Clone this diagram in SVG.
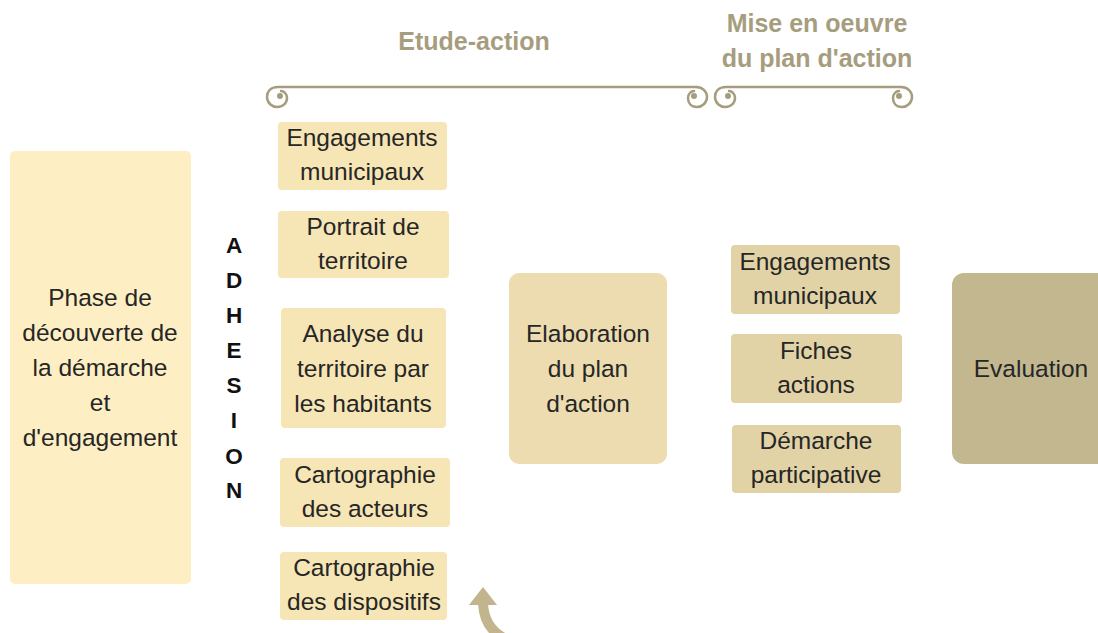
<svg xmlns="http://www.w3.org/2000/svg" width="1098" height="633" viewBox="0 0 1098 633">
<style>
  text { font-family: "Liberation Sans", Arial, sans-serif; }
  .t { font-size: 24.5px; fill: #262626; text-anchor: middle; }
  .h { font-size: 25px; font-weight: bold; fill: #a69d7e; text-anchor: middle; }
  .v { font-size: 22.5px; font-weight: bold; fill: #111; text-anchor: middle; }
  .b { fill: none; stroke: #a69d7e; stroke-width: 2.5; stroke-linecap: round; }
  .dot { fill: #a69d7e; }
  .phase { fill: #fdefc3; }
  .left { fill: #f6e5b5; }
  .elab { fill: #ecdcb0; }
  .right { fill: #e1d3a6; }
  .eval { fill: #c3b78f; }
</style>
<rect width="1098" height="633" fill="#ffffff"/>

<g id="headers">
  <text class="h" x="474" y="50">Etude-action</text>
  <text class="h" x="817" y="32">Mise en oeuvre</text>
  <text class="h" x="817" y="67">du plan d'action</text>
</g>

<g id="bracket-etude">
  <path class="b" d="M 696 87 L 278 87 C 270 87 267 92 267 97 C 267 103 272 107 277 107 C 283 107 287 103 287 98 C 287 94 284 91 281 91"/>
  <circle class="dot" cx="280" cy="96" r="3"/>
  <path class="b" d="M 696 87 C 703 87 707 92 707 97 C 707 103 702 107 697 107 C 691 107 688 103 688 98 C 688 94 691 91 694 91"/>
  <circle class="dot" cx="694" cy="96" r="3"/>
</g>

<g id="bracket-mise">
  <path class="b" d="M 901 87 L 726 87 C 718 87 715 92 715 97 C 715 103 720 107 725 107 C 731 107 735 103 735 98 C 735 94 732 91 729 91"/>
  <circle class="dot" cx="728" cy="96" r="3"/>
  <path class="b" d="M 901 87 C 908 87 912 92 912 97 C 912 103 907 107 902 107 C 896 107 893 103 893 98 C 893 94 896 91 899 91"/>
  <circle class="dot" cx="899" cy="96" r="3"/>
</g>

<g id="phase">
  <rect class="phase" x="10" y="151" width="181" height="433" rx="5"/>
  <text class="t" x="100" y="306">Phase de</text>
  <text class="t" x="100" y="341">découverte de</text>
  <text class="t" x="100" y="376">la démarche</text>
  <text class="t" x="100" y="411">et</text>
  <text class="t" x="100" y="446">d'engagement</text>
</g>

<g id="adhesion">
  <text class="v" x="234" y="253">A</text>
  <text class="v" x="234" y="288">D</text>
  <text class="v" x="234" y="323">H</text>
  <text class="v" x="234" y="358">E</text>
  <text class="v" x="234" y="393">S</text>
  <text class="v" x="234" y="428">I</text>
  <text class="v" x="234" y="464">O</text>
  <text class="v" x="234" y="498">N</text>
</g>

<g id="engagements-1">
  <rect class="left" x="278" y="122" width="169" height="68" rx="4"/>
  <text class="t" x="362" y="146">Engagements</text>
  <text class="t" x="362" y="180">municipaux</text>
</g>
<g id="portrait">
  <rect class="left" x="278" y="211" width="171" height="67" rx="4"/>
  <text class="t" x="363" y="235">Portrait de</text>
  <text class="t" x="363" y="269">territoire</text>
</g>
<g id="analyse">
  <rect class="left" x="281" y="308" width="165" height="120" rx="4"/>
  <text class="t" x="363" y="342">Analyse du</text>
  <text class="t" x="363" y="377">territoire par</text>
  <text class="t" x="363" y="412">les habitants</text>
</g>
<g id="cartographie-acteurs">
  <rect class="left" x="280" y="458" width="170" height="69" rx="4"/>
  <text class="t" x="365" y="483">Cartographie</text>
  <text class="t" x="365" y="517">des acteurs</text>
</g>
<g id="cartographie-dispositifs">
  <rect class="left" x="280" y="552" width="167" height="68" rx="4"/>
  <text class="t" x="364" y="576">Cartographie</text>
  <text class="t" x="364" y="610">des dispositifs</text>
</g>

<g id="elaboration">
  <rect class="elab" x="509" y="273" width="158" height="191" rx="10"/>
  <text class="t" x="588" y="342">Elaboration</text>
  <text class="t" x="588" y="377">du plan</text>
  <text class="t" x="588" y="412">d'action</text>
</g>

<g id="engagements-2">
  <rect class="right" x="731" y="245" width="169" height="69" rx="4"/>
  <text class="t" x="815" y="270">Engagements</text>
  <text class="t" x="815" y="304">municipaux</text>
</g>
<g id="fiches">
  <rect class="right" x="731" y="334" width="171" height="69" rx="4"/>
  <text class="t" x="816" y="359">Fiches</text>
  <text class="t" x="816" y="393">actions</text>
</g>
<g id="demarche">
  <rect class="right" x="732" y="425" width="169" height="68" rx="4"/>
  <text class="t" x="816" y="449">Démarche</text>
  <text class="t" x="816" y="483">participative</text>
</g>

<g id="evaluation">
  <rect class="eval" x="952" y="273" width="160" height="191" rx="12"/>
  <text class="t" x="1031" y="377">Evaluation</text>
</g>

<g id="connectors">
  <path d="M 483 603 Q 484 630 508 640 L 1080 640" fill="none" stroke="#c2b48c" stroke-width="10"/>
  <polygon points="469,605 497,605 483,587" fill="#c2b48c"/>
</g>
</svg>
